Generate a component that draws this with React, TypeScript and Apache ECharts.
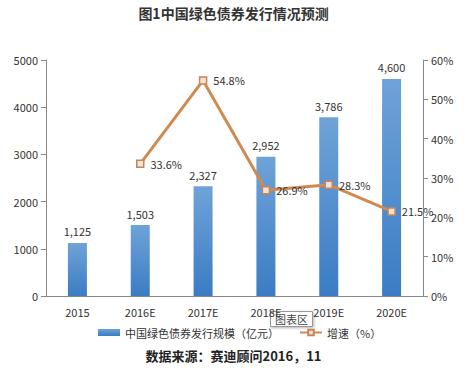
import React, { useEffect, useRef } from "react";
import * as echarts from "echarts";

const categories = ["2015", "2016E", "2017E", "2018E", "2019E", "2020E"];
const issuance = [1125, 1503, 2327, 2952, 3786, 4600];
const growth = [null, 33.6, 54.8, 26.9, 28.3, 21.5];
const leftTicks = [0, 1000, 2000, 3000, 4000, 5000];
const rightTicks = [0, 10, 20, 30, 40, 50, 60];

const FONT = "'Noto Sans CJK SC', 'Noto Sans', sans-serif";

export default function App() {
  const ref = useRef<HTMLDivElement>(null);
  useEffect(() => {
    if (!ref.current) return;
    const chart = echarts.init(ref.current, null, { renderer: "svg" });
    chart.setOption({
      animation: false,
      backgroundColor: "#ffffff",
      textStyle: { fontFamily: FONT },
      title: {
        text: "图1中国绿色债券发行情况预测",
        left: "center",
        top: 1,
        textStyle: { fontSize: 14, fontWeight: "bold", color: "#333", fontFamily: FONT },
      },
      legend: {
        top: 322,
        left: 93,
        itemGap: 20,
        itemWidth: 22,
        itemHeight: 7,
        textStyle: { fontSize: 11, color: "#333", fontFamily: FONT },
        data: [
          { name: "中国绿色债券发行规模（亿元）", icon: "rect" },
          { name: "增速（%）" },
        ],
      },
      grid: { left: 46, right: 44, top: 60, bottom: 75 },
      xAxis: {
        type: "category",
        data: categories,
        axisLine: { lineStyle: { color: "#888" } },
        axisTick: { alignWithLabel: true, lineStyle: { color: "#888" } },
        axisLabel: { color: "#333", fontSize: 11, margin: 10 },
      },
      yAxis: [
        {
          type: "value",
          min: leftTicks[0],
          max: leftTicks[leftTicks.length - 1],
          interval: 1000,
          splitLine: { show: false },
          axisLine: { show: true, lineStyle: { color: "#888" } },
          axisTick: { show: true, lineStyle: { color: "#888" } },
          axisLabel: { color: "#333", fontSize: 11, margin: 8, formatter: (v: number) => String(v) },
        },
        {
          type: "value",
          min: rightTicks[0],
          max: rightTicks[rightTicks.length - 1],
          interval: 10,
          splitLine: { show: false },
          axisLine: { show: true, lineStyle: { color: "#888" } },
          axisTick: { show: true, lineStyle: { color: "#888" } },
          axisLabel: { color: "#333", fontSize: 11, margin: 8, formatter: "{value}%" },
        },
      ],
      series: [
        {
          name: "中国绿色债券发行规模（亿元）",
          type: "bar",
          data: issuance,
          barWidth: 19,
          itemStyle: {
            color: new echarts.graphic.LinearGradient(0, 0, 0, 1, [
              { offset: 0, color: "#6fa3d8" },
              { offset: 1, color: "#3b7cc4" },
            ]),
          },
          label: {
            show: true,
            position: "top",
            distance: 6,
            color: "#333",
            fontSize: 11,
            formatter: (p: any) => Number(p.value).toLocaleString("en-US"),
          },
          z: 2,
        },
        {
          name: "增速（%）",
          type: "line",
          yAxisIndex: 1,
          data: growth,
          symbol: "rect",
          symbolSize: 7,
          lineStyle: { color: "#cf8a52", width: 3 },
          itemStyle: { color: "#ece4dc", borderColor: "#c98450", borderWidth: 1.5 },
          label: {
            show: true,
            position: "right",
            distance: 6,
            color: "#333",
            fontSize: 11,
            formatter: (p: any) => p.value + "%",
          },
          z: 3,
        },
      ],
      graphic: [
        {
          type: "group",
          left: 270,
          top: 311,
          children: [
            {
              type: "rect",
              shape: { x: 0, y: 0, width: 42, height: 15 },
              style: {
                fill: "#ffffff",
                stroke: "#999",
                lineWidth: 1,
                shadowBlur: 3,
                shadowColor: "rgba(0,0,0,0.3)",
                shadowOffsetX: 1,
                shadowOffsetY: 1,
              },
            },
            {
              type: "text",
              x: 21,
              y: 7.5,
              style: {
                text: "图表区",
                fontSize: 11,
                fill: "#444",
                align: "center",
                verticalAlign: "middle",
                fontFamily: FONT,
              },
            },
          ],
          z: 10,
        },
        {
          type: "text",
          left: "center",
          top: 349,
          style: {
            text: "数据来源：赛迪顾问2016，11",
            fontSize: 13,
            fontWeight: "bold",
            fill: "#222",
            fontFamily: FONT,
          },
        },
      ],
    });
    return () => chart.dispose();
  }, []);
  return (
    <div
      ref={ref}
      style={{ position: "absolute", left: 0, top: 0, width: 467, height: 371 }}
    />
  );
}
